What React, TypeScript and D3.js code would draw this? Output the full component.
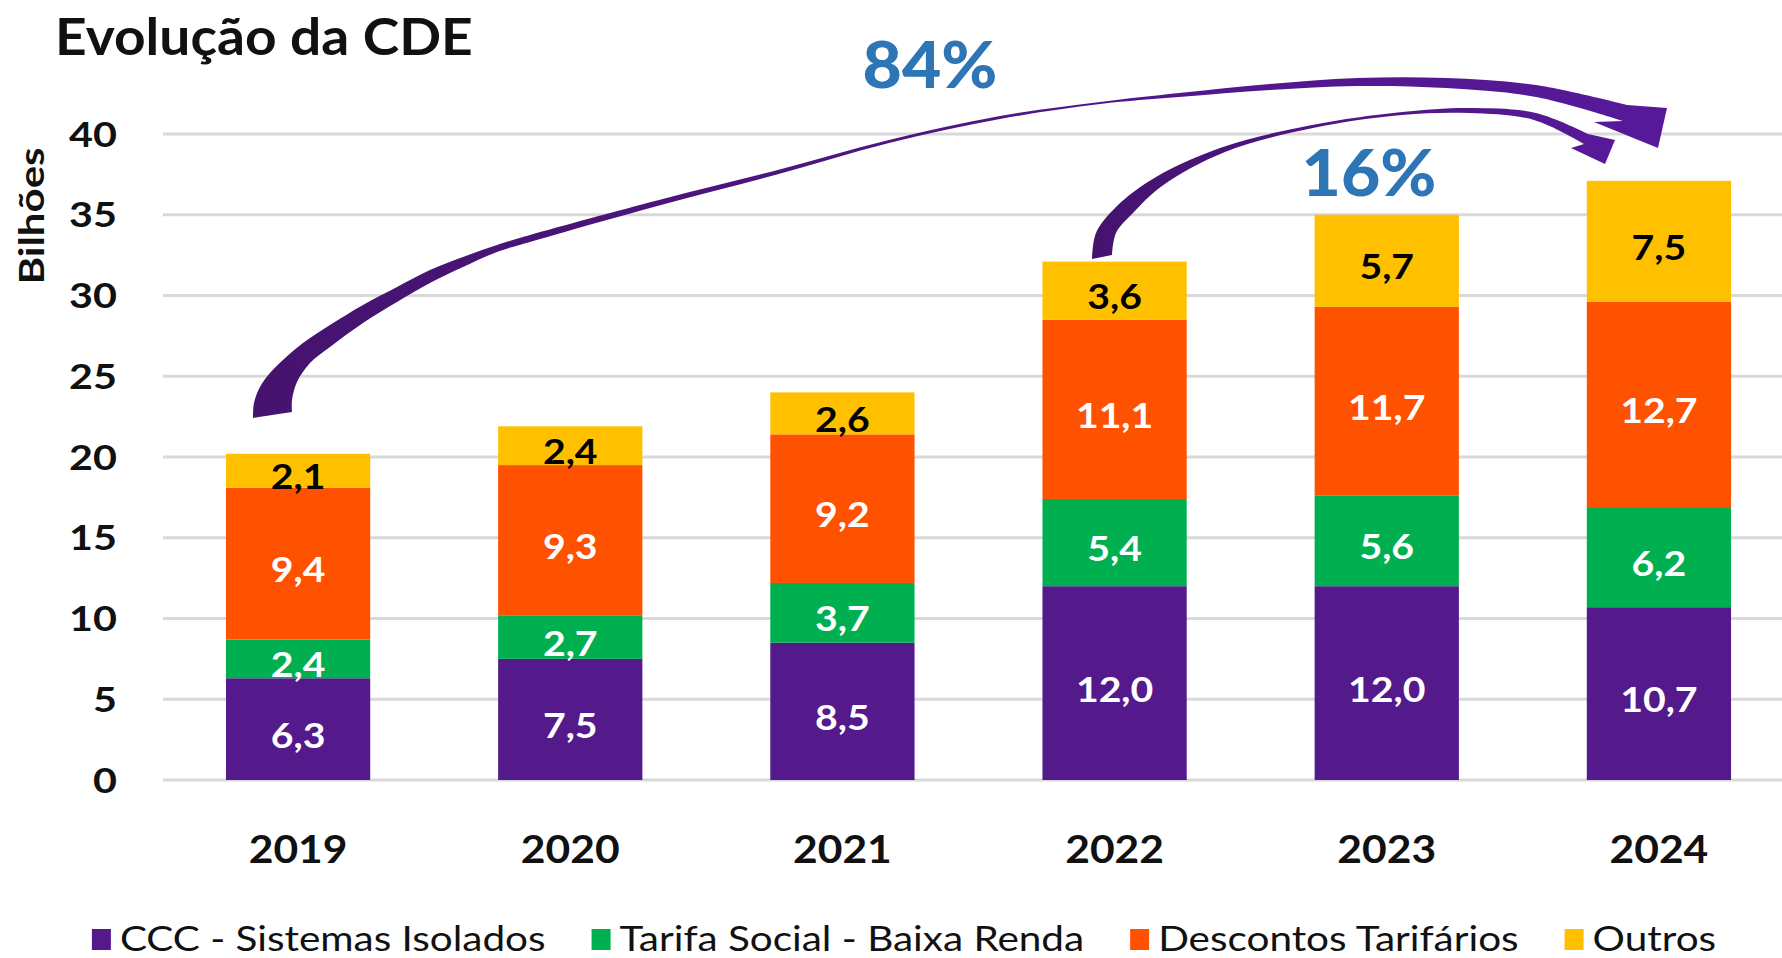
import React, { useRef, useEffect } from 'react';
import * as d3 from 'd3';

const WIDTH = 1782;
const HEIGHT = 958;
const FONT = "Lato, 'Open Sans', 'DejaVu Sans', sans-serif";

// data (bilhões de R$)
const years = ['2019', '2020', '2021', '2022', '2023', '2024'];
const ccc = [6.3, 7.5, 8.5, 12.0, 12.0, 10.7];
const tarifaSocial = [2.4, 2.7, 3.7, 5.4, 5.6, 6.2];
const descontos = [9.4, 9.3, 9.2, 11.1, 11.7, 12.7];
const outros = [2.1, 2.4, 2.6, 3.6, 5.7, 7.5];
const seriesNames = ['CCC - Sistemas Isolados', 'Tarifa Social - Baixa Renda', 'Descontos Tarifários', 'Outros'];
const yTicks = [0, 5, 10, 15, 20, 25, 30, 35, 40];
const growthLabels = ['84%', '16%'];

const seriesColors = ['#541A8C', '#00B050', '#FF5200', '#FFC000'];
const labelColors = ['#ffffff', '#ffffff', '#ffffff', '#000000'];

// curved arrow annotations, traced as outer edge, head (outer wing, tip, inner wing), inner edge
const bigArrow = {
  outer: [[253, 418], [254, 403], [260, 387], [270, 373], [283, 360], [303, 343], [330, 325], [363, 305],
    [397, 287], [430, 270], [463, 257], [497, 245], [530, 235], [659, 200], [774, 171], [889, 140],
    [1000, 116], [1100, 102], [1179, 93], [1270, 84], [1357, 78], [1446, 78], [1536, 85], [1627, 105]],
  inner: [[292, 412], [292, 400], [297, 382], [310, 363], [330, 347], [363, 323], [397, 302], [430, 283],
    [463, 267], [497, 252], [530, 242], [661, 205], [775, 175], [889, 143], [1000, 119], [1100, 104],
    [1179, 97], [1270, 90], [1357, 86], [1446, 88], [1536, 97], [1623, 121]],
  head: [[1667, 108], [1658, 148], [1594, 122]],
};
const smallArrow = {
  outer: [[1092, 259], [1096, 233], [1116, 207], [1156, 177], [1223, 147], [1312, 125], [1402, 112],
    [1469, 108], [1536, 113], [1588, 134]],
  inner: [[1112, 255], [1116, 233], [1133, 213], [1162, 186], [1225, 152], [1313, 128], [1402, 115],
    [1469, 113], [1534, 120], [1584, 144]],
  head: [[1615, 140], [1605, 164], [1571, 148]],
};

// the source font is wider than Lato, so widen glyphs a bit
function stretch(sel, k) {
  const w = sel.node().getComputedTextLength();
  sel.attr('textLength', w * k).attr('lengthAdjust', 'spacingAndGlyphs');
  return w * k;
}

function arrowOutline(arrow) {
  const smooth = d3.line().curve(d3.curveCatmullRom.alpha(0.5));
  const outerPath = smooth(arrow.outer);
  const innerPath = smooth([...arrow.inner].reverse()).replace(/^M/, 'L');
  const headPath = arrow.head.map((p) => `L${p[0]},${p[1]}`).join('');
  return outerPath + headPath + innerPath + 'Z';
}

export default function App() {
  const svgRef = useRef(null);

  useEffect(() => {
    if (!svgRef.current) return;
    const svg = d3.select(svgRef.current);
    svg.selectAll('*').remove();

    const x = d3.scaleBand().domain(years).range([162, 1795]).paddingInner(0.47).paddingOuter(0.235);
    const y = d3.scaleLinear().domain([0, 40]).range([780, 134]);

    const defs = svg.append('defs');
    const grad = defs.append('linearGradient').attr('id', 'arrowGrad')
      .attr('x1', '0%').attr('y1', '0%').attr('x2', '100%').attr('y2', '0%');
    grad.append('stop').attr('offset', '0%').attr('stop-color', '#45136E');
    grad.append('stop').attr('offset', '100%').attr('stop-color', '#57199A');

    svg.append('rect').attr('width', WIDTH).attr('height', HEIGHT).attr('fill', '#ffffff');

    // title
    const title = svg.append('text')
      .attr('x', 55).attr('y', 55)
      .attr('font-family', FONT).attr('font-size', 52).attr('font-weight', 700)
      .attr('fill', '#111')
      .text('Evolução da CDE');
    stretch(title, 1.06);

    // gridlines + y ticks
    const grid = svg.append('g');
    yTicks.forEach((t) => {
      grid.append('line')
        .attr('x1', 163).attr('x2', WIDTH)
        .attr('y1', y(t)).attr('y2', y(t))
        .attr('stroke', '#D9D9D9').attr('stroke-width', 3);
      const lbl = grid.append('text')
        .attr('x', 117).attr('y', y(t)).attr('dy', '0.36em')
        .attr('text-anchor', 'end')
        .attr('font-family', FONT).attr('font-size', 35).attr('font-weight', 700)
        .attr('fill', '#111')
        .text(String(t));
      stretch(lbl, 1.18);
    });

    const yTitle = svg.append('text')
      .attr('transform', 'translate(44, 216) rotate(-90)')
      .attr('text-anchor', 'middle')
      .attr('font-family', FONT).attr('font-size', 35).attr('font-weight', 700)
      .attr('fill', '#111')
      .text('Bilhões');
    stretch(yTitle, 1.2);

    // stacked bars
    const table = years.map((yr, i) => ({ year: yr, s0: ccc[i], s1: tarifaSocial[i], s2: descontos[i], s3: outros[i] }));
    const keys = ['s0', 's1', 's2', 's3'];
    const stacked = d3.stack().keys(keys)(table);
    const bars = svg.append('g');
    stacked.forEach((layer, li) => {
      layer.forEach((d) => {
        bars.append('rect')
          .attr('x', x(d.data.year))
          .attr('width', x.bandwidth())
          .attr('y', y(d[1]))
          .attr('height', y(d[0]) - y(d[1]))
          .attr('fill', seriesColors[li]);
      });
    });
    stacked.forEach((layer, li) => {
      layer.forEach((d) => {
        const v = d[1] - d[0];
        const lbl = bars.append('text')
          .attr('x', x(d.data.year) + x.bandwidth() / 2)
          .attr('y', (y(d[0]) + y(d[1])) / 2 + 12.5 + 6)
          .attr('text-anchor', 'middle')
          .attr('font-family', FONT).attr('font-size', 35).attr('font-weight', 700)
          .attr('fill', labelColors[li])
          .text(v.toFixed(1).replace('.', ','));
        stretch(lbl, 1.12);
      });
    });

    // x axis labels
    years.forEach((yr) => {
      const lbl = svg.append('text')
        .attr('x', x(yr) + x.bandwidth() / 2).attr('y', 863)
        .attr('text-anchor', 'middle')
        .attr('font-family', FONT).attr('font-size', 38).attr('font-weight', 700)
        .attr('fill', '#111')
        .text(yr);
      stretch(lbl, 1.12);
    });

    // growth arrows
    [bigArrow, smallArrow].forEach((a) => {
      svg.append('path').attr('d', arrowOutline(a)).attr('fill', 'url(#arrowGrad)');
    });
    const g1 = svg.append('text')
      .attr('x', 930).attr('y', 88).attr('text-anchor', 'middle')
      .attr('font-family', FONT).attr('font-size', 64).attr('font-weight', 900)
      .attr('fill', '#2E75B6')
      .text(growthLabels[0]);
    stretch(g1, 1.06);
    const g2 = svg.append('text')
      .attr('x', 1369).attr('y', 196).attr('text-anchor', 'middle')
      .attr('font-family', FONT).attr('font-size', 64).attr('font-weight', 900)
      .attr('fill', '#2E75B6')
      .text(growthLabels[1]);
    stretch(g2, 1.06);

    // legend
    const legend = svg.append('g');
    const sq = 19;
    const gapIn = 9;
    const gapOut = 46;
    let cx = 0;
    const items = seriesNames.map((name, i) => {
      const g = legend.append('g');
      g.append('rect').attr('x', 0).attr('y', 929).attr('width', sq).attr('height', 21).attr('fill', seriesColors[i]);
      const t = g.append('text')
        .attr('x', sq + gapIn).attr('y', 951)
        .attr('font-family', FONT).attr('font-size', 34)
        .attr('fill', '#111')
        .text(name);
      const w = sq + gapIn + stretch(t, 1.19);
      const item = { g, x: cx };
      cx += w + gapOut;
      return item;
    });
    const totalW = cx - gapOut;
    const start = 904 - totalW / 2;
    items.forEach((it) => it.g.attr('transform', `translate(${start + it.x},0)`));
  }, []);

  return (
    <svg
      ref={svgRef}
      width={WIDTH}
      height={HEIGHT}
      style={{ position: 'absolute', left: 0, top: 0, display: 'block' }}
    />
  );
}
